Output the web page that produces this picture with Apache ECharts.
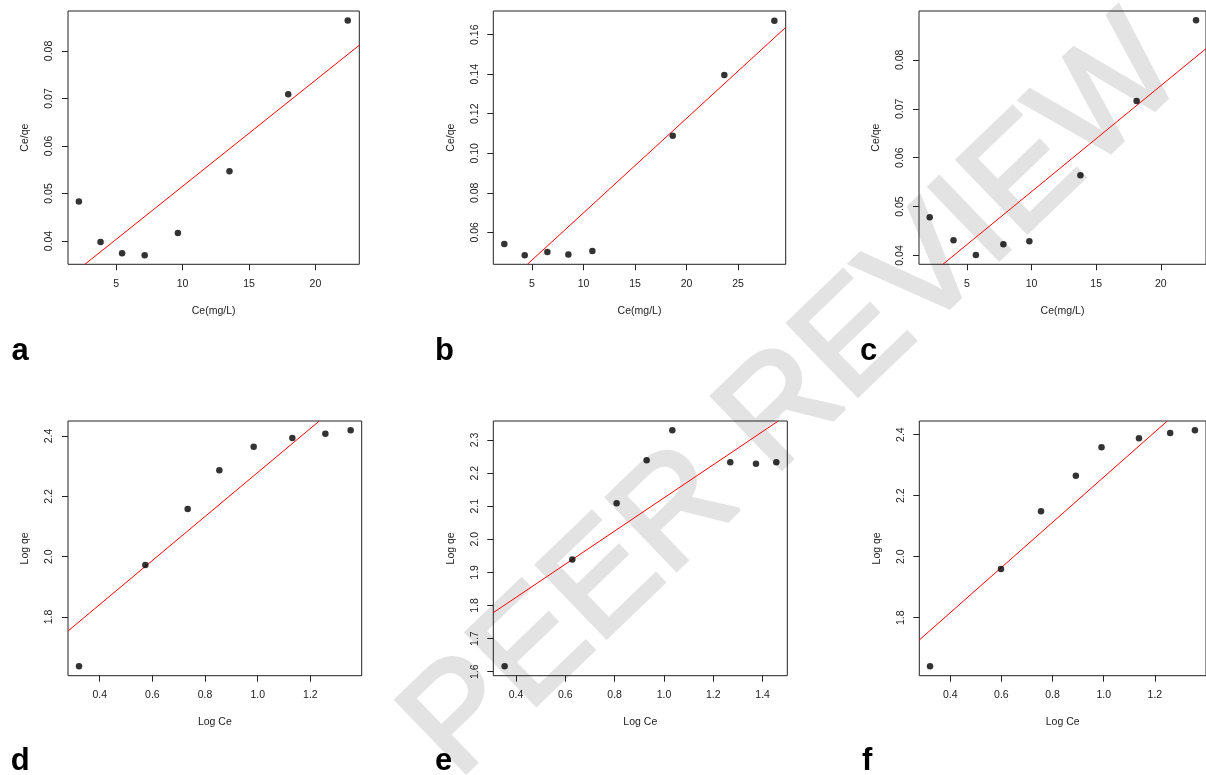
<!DOCTYPE html>
<html><head><meta charset="utf-8">
<script src="https://cdn.jsdelivr.net/npm/echarts@6/dist/echarts.min.js"></script>
<style>html,body{margin:0;padding:0;background:#fff}#c{width:1206px;height:775px}</style>
</head><body><div id="c"></div>
<script>
// ---- data ----
var aX = [2.20, 3.83, 5.45, 7.15, 9.65, 13.53, 17.95, 22.43];
var aY = [0.0483, 0.0398, 0.0374, 0.0370, 0.0417, 0.0547, 0.0709, 0.0864];
var aFit = [[2.65, 0.0351], [23.3, 0.0812]];

var bX = [2.31, 4.29, 6.49, 8.53, 10.86, 18.66, 23.67, 28.53];
var bY = [0.0541, 0.0484, 0.0500, 0.0487, 0.0505, 0.1089, 0.1396, 0.1671];
var bFit = [[4.55, 0.0438], [29.63, 0.1637]];

var cX = [2.12, 3.96, 5.69, 7.82, 9.83, 13.78, 18.13, 22.73];
var cY = [0.0478, 0.0431, 0.0401, 0.0423, 0.0429, 0.0564, 0.0716, 0.0881];
var cFit = [[3.14, 0.0382], [23.5, 0.0823]];

var dX = [0.3215, 0.5734, 0.7342, 0.8544, 0.9848, 1.1316, 1.257, 1.353];
var dY = [1.6365, 1.9724, 2.158, 2.2862, 2.3646, 2.3934, 2.4077, 2.4188];
var dFit = [[0.2797, 1.7536], [1.234, 2.4497]];

var eX = [0.354, 0.6284, 0.8081, 0.9297, 1.0338, 1.2689, 1.373, 1.4554];
var eY = [1.6163, 1.9386, 2.1088, 2.2387, 2.3293, 2.2326, 2.2286, 2.2326];
var eFit = [[0.3081, 1.7784], [1.4635, 2.3574]];

var fX = [0.3211, 0.5985, 0.755, 0.8911, 0.9916, 1.1379, 1.26, 1.3567];
var fY = [1.6404, 1.9596, 2.1486, 2.2656, 2.3585, 2.388, 2.4055, 2.4142];
var fFit = [[0.2791, 1.7268], [1.2486, 2.4448]];

// axis ranges
var aXRange = [1.38, 23.3],  aYRange = [0.0351, 0.0884];
var bXRange = [1.24, 29.63], bYRange = [0.0438, 0.172];
var cXRange = [1.29, 23.5],  cYRange = [0.0382, 0.09];
var dXRange = [0.2797, 1.395], dYRange = [1.6055, 2.4497];
var eXRange = [0.3081, 1.5],   eYRange = [1.5879, 2.3574];
var fXRange = [0.2791, 1.40],  fYRange = [1.6098, 2.4448];

// tick labels
var ceTicksA = ['5', '10', '15', '20'];
var ceTicksB = ['5', '10', '15', '20', '25'];
var ceqeTicksA = ['0.04', '0.05', '0.06', '0.07', '0.08'];
var ceqeTicksB = ['0.06', '0.08', '0.10', '0.12', '0.14', '0.16'];
var logCeTicksD = ['0.4', '0.6', '0.8', '1.0', '1.2'];
var logCeTicksE = ['0.4', '0.6', '0.8', '1.0', '1.2', '1.4'];
var logqeTicksD = ['1.8', '2.0', '2.2', '2.4'];
var logqeTicksE = ['1.6', '1.7', '1.8', '1.9', '2.0', '2.1', '2.2', '2.3'];

var panelLetters = ['a', 'b', 'c', 'd', 'e', 'f'];
var xNames = ['Ce(mg/L)', 'Ce(mg/L)', 'Ce(mg/L)', 'Log Ce', 'Log Ce', 'Log Ce'];
var yNames = ['Ce/qe', 'Ce/qe', 'Ce/qe', 'Log qe', 'Log qe', 'Log qe'];
var watermarkText = 'PEER REVIEW';

// ---- layout ----
var grids = [
  {left: 68,    top: 11,  width: 291.3, height: 253.3},
  {left: 493.3, top: 11,  width: 292.4, height: 253.3},
  {left: 919,   top: 11,  width: 291,   height: 253.3},
  {left: 68,    top: 421, width: 293.7, height: 254.7},
  {left: 493.3, top: 421, width: 294,   height: 254.7},
  {left: 919.3, top: 421, width: 293.7, height: 254.7}
];
var letterPos = [[11.5, 351], [435, 351], [860, 351], [10.7, 761], [435, 761], [862, 761]];

var panels = [
  {x: aX, y: aY, fit: aFit, xr: aXRange, yr: aYRange, xt: ceTicksA, yt: ceqeTicksA},
  {x: bX, y: bY, fit: bFit, xr: bXRange, yr: bYRange, xt: ceTicksB, yt: ceqeTicksB},
  {x: cX, y: cY, fit: cFit, xr: cXRange, yr: cYRange, xt: ceTicksA, yt: ceqeTicksA},
  {x: dX, y: dY, fit: dFit, xr: dXRange, yr: dYRange, xt: logCeTicksD, yt: logqeTicksD},
  {x: eX, y: eY, fit: eFit, xr: eXRange, yr: eYRange, xt: logCeTicksE, yt: logqeTicksE},
  {x: fX, y: fY, fit: fFit, xr: fXRange, yr: fYRange, xt: logCeTicksD, yt: logqeTicksD}
];

var FONT = '"Liberation Sans", Arial, sans-serif';
var TXT = '#222';

function makeAxis(i, ticks, range, name, isY) {
  var vals = ticks.map(Number);
  var dec = (ticks[0].split('.')[1] || '').length;
  return {
    gridIndex: i, type: 'value', min: range[0], max: range[1],
    axisLine: {show: false, onZero: false},
    splitLine: {show: false},
    axisTick: {show: true, length: 6, customValues: vals, lineStyle: {color: '#222', width: 1}},
    axisLabel: {
      customValues: vals, fontSize: 10.5, color: TXT, fontFamily: FONT,
      margin: isY ? 13 : 14, rotate: isY ? 90 : 0,
      formatter: function (v) { return Number(v).toFixed(dec); }
    },
    name: name, nameLocation: 'middle', nameGap: isY ? 37 : 41,
    nameRotate: isY ? 90 : 0,
    nameTextStyle: {fontSize: 10.5, color: TXT, fontFamily: FONT}
  };
}

var option = {
  backgroundColor: '#fff',
  animation: false,
  grid: grids.map(function (g) {
    return {left: g.left, top: g.top, width: g.width, height: g.height,
      show: true, borderColor: '#222', borderWidth: 1, backgroundColor: 'transparent'};
  }),
  xAxis: panels.map(function (p, i) { return makeAxis(i, p.xt, p.xr, xNames[i], false); }),
  yAxis: panels.map(function (p, i) { return makeAxis(i, p.yt, p.yr, yNames[i], true); }),
  series: [],
  graphic: []
};

panels.forEach(function (p, i) {
  option.series.push({
    type: 'scatter', xAxisIndex: i, yAxisIndex: i, symbol: 'circle', symbolSize: 6.5,
    itemStyle: {color: '#000'}, z: 4,
    data: p.x.map(function (v, k) { return [v, p.y[k]]; })
  });
  option.series.push({
    type: 'line', xAxisIndex: i, yAxisIndex: i, showSymbol: false, symbol: 'none',
    clip: true, z: 3, lineStyle: {color: '#ff0000', width: 1}, data: p.fit
  });
  option.graphic.push({
    type: 'text', x: letterPos[i][0], y: letterPos[i][1], z: 10,
    style: {text: panelLetters[i], font: 'bold 31px ' + FONT, fill: '#000',
      textAlign: 'left', textVerticalAlign: 'middle'}
  });
});

// light grey diagonal watermark
option.graphic.push({
  type: 'text', x: 795, y: 400, rotation: Math.PI / 4.1, z: -10, silent: true,
  style: {text: watermarkText, font: 'normal 146px ' + FONT, fill: '#e3e3e3',
    stroke: '#e3e3e3', lineWidth: 4, lineJoin: 'round',
    textAlign: 'center', textVerticalAlign: 'middle'}
});

var chart = echarts.init(document.getElementById('c'), null, {renderer: 'canvas'});
chart.setOption(option);
</script>
</body></html>
